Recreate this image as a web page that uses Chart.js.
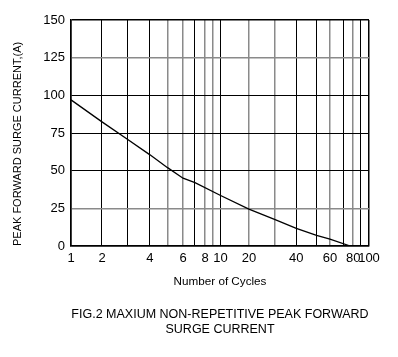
<!DOCTYPE html>
<html>
<head>
<meta charset="utf-8">
<script src="https://cdn.jsdelivr.net/npm/chart.js@4"></script>
<style>
  html, body { margin: 0; padding: 0; background: #fff; }
  #c { display: block; }
</style>
</head>
<body>
<canvas id="c" width="398" height="357"></canvas>
<script>
// ---- data ----
const CYCLES  = [1, 2, 3, 4, 5, 6, 7, 10, 20, 30, 40, 50, 60, 77];
const CURRENT = [97, 82.4, 71, 60.5, 52, 45, 42, 33.5, 24.5, 17.5, 11.7, 7, 4.5, 0];

// gridline values on the cycles axis and which get labels
const X_GRID_VALUES = [1, 2, 3, 4, 5, 6, 7, 8, 9, 10, 20, 30, 40, 50, 60, 70, 80, 90, 100];
const X_TICK_LABELS = [1, 2, 4, 6, 8, 10, 20, 40, 60, 80, 100];
const Y_TICK_VALUES = [0, 25, 50, 75, 100, 125, 150];

// axis layout: relative position of each gridline along the (hand-drawn) cycles axis
const X_GRID_FRACTIONS = [0, 0.104, 0.188, 0.265, 0.324, 0.376, 0.416, 0.450, 0.475, 0.502,
                          0.597, 0.685, 0.756, 0.824, 0.869, 0.914, 0.947, 0.970, 1];

// styles
const X_GRAY = [5, 6, 8, 9, 20, 30, 60, 80];
const Y_GRAY = [25, 125];
const GRAY = '#8a8a8a';
const FONT = 'Liberation Sans, Arial, Helvetica, sans-serif';

function warp(v) {
  const g = X_GRID_VALUES, f = X_GRID_FRACTIONS;
  if (v <= g[0]) return f[0];
  for (let i = 1; i < g.length; i++) {
    if (v <= g[i]) {
      const t = (v - g[i - 1]) / (g[i] - g[i - 1]);
      return f[i - 1] + t * (f[i] - f[i - 1]);
    }
  }
  return f[f.length - 1];
}
function unwarp(d) {
  const g = X_GRID_VALUES, f = X_GRID_FRACTIONS;
  if (d <= f[0]) return g[0];
  for (let i = 1; i < f.length; i++) {
    if (d <= f[i]) {
      const t = (d - f[i - 1]) / (f[i] - f[i - 1]);
      return g[i - 1] + t * (g[i] - g[i - 1]);
    }
  }
  return g[g.length - 1];
}

class WarpScale extends Chart.LinearScale {
  static id = 'warp';
  buildTicks() {
    return X_GRID_VALUES.map(v => ({ value: v }));
  }
  getPixelForValue(value) {
    return this.getPixelForDecimal(warp(value));
  }
  getValueForPixel(pixel) {
    return unwarp(this.getDecimalForPixel(pixel));
  }
}
Chart.register(WarpScale);

const points = CYCLES.map((c, i) => ({ x: c, y: CURRENT[i] }));

new Chart(document.getElementById('c'), {
  type: 'line',
  data: {
    datasets: [{
      data: points,
      borderColor: '#000',
      borderWidth: 1.3,
      pointRadius: 0,
      tension: 0,
      fill: false
    }]
  },
  options: {
    responsive: false,
    animation: false,
    devicePixelRatio: 1,
    layout: { padding: { top: 20, right: 29, bottom: 19.5, left: 0 } },
    plugins: {
      legend: { display: false },
      tooltip: { enabled: false },
      title: {
        display: true,
        position: 'bottom',
        fullSize: false,
        text: ['FIG.2 MAXIUM NON-REPETITIVE PEAK FORWARD', 'SURGE CURRENT'],
        color: '#000',
        font: { family: FONT, size: 12.5, weight: 'normal', lineHeight: 1.2 },
        padding: { top: 16.5, bottom: 0 }
      }
    },
    scales: {
      x: {
        type: 'warp',
        min: 1,
        max: 100,
        afterFit: s => { s.height = 45; },
        ticks: {
          autoSkip: false,
          maxRotation: 0,
          padding: 5,
          color: '#000',
          font: { family: FONT, size: 13 },
          callback: v => X_TICK_LABELS.includes(v) ? String(v) : ''
        },
        grid: {
          drawTicks: false,
          color: ctx => X_GRAY.includes(ctx.tick && ctx.tick.value) ? GRAY : '#000',
          lineWidth: ctx => {
            const v = ctx.tick && ctx.tick.value;
            if (v === 1 || v === 100) return 1.5;
            return X_GRAY.includes(v) ? 1.5 : 1;
          }
        },
        border: { color: '#000', width: 1.5 },
        title: {
          display: true,
          text: 'Number of Cycles',
          color: '#000',
          font: { family: FONT, size: 11.7 },
          padding: { top: 0, bottom: 2 }
        }
      },
      y: {
        type: 'linear',
        min: 0,
        max: 150,
        afterFit: s => { s.width = 71; },
        afterBuildTicks: s => { s.ticks = Y_TICK_VALUES.map(v => ({ value: v })); },
        ticks: {
          padding: 6,
          color: '#000',
          font: { family: FONT, size: 13 }
        },
        grid: {
          drawTicks: false,
          color: ctx => Y_GRAY.includes(ctx.tick && ctx.tick.value) ? GRAY : '#000',
          lineWidth: ctx => {
            const v = ctx.tick && ctx.tick.value;
            if (v === 0 || v === 150) return 1.5;
            return Y_GRAY.includes(v) ? 1.5 : 1;
          }
        },
        border: { color: '#000', width: 1.5 },
        title: {
          display: true,
          text: 'PEAK FORWARD SURGE CURRENT,(A)',
          align: 'start',
          color: '#000',
          font: { family: FONT, size: 11 },
          padding: { top: 11, bottom: 0 }
        }
      }
    }
  }
});
</script>
</body>
</html>
